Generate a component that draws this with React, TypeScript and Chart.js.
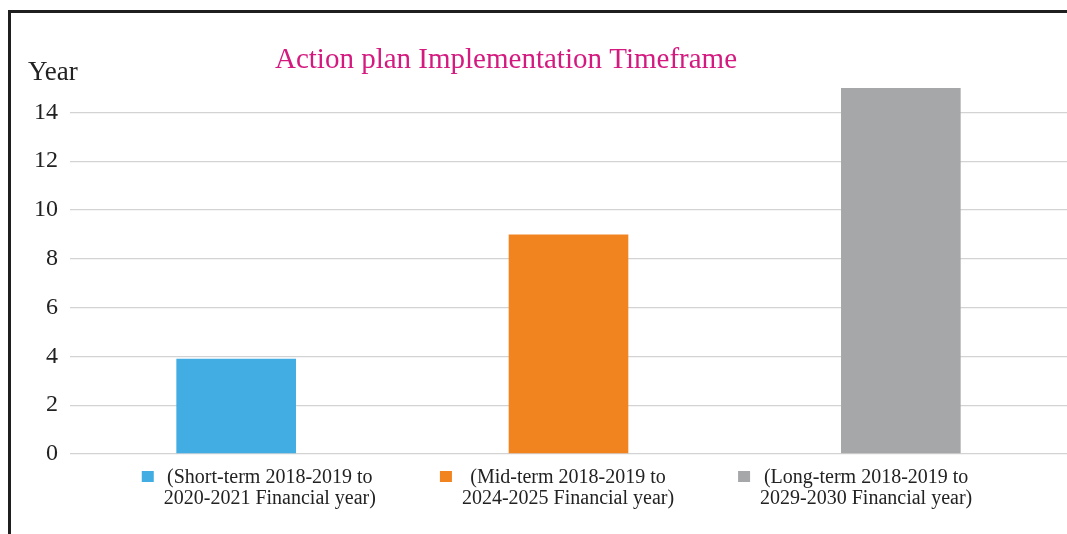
import React, { useEffect, useRef } from "react";
import { Chart, registerables } from "chart.js";

Chart.register(...registerables);

const chartTitle = "Action plan Implementation Timeframe";
const yAxisLabel = "Year";
const categories: string[][] = [
  ["(Short-term 2018-2019 to", "2020-2021 Financial year)"],
  ["(Mid-term 2018-2019 to", "2024-2025 Financial year)"],
  ["(Long-term 2018-2019 to", "2029-2030 Financial year)"],
];
const durationYears = [3.9, 9, 15];
const barColors = ["#41ade2", "#f28420", "#a6a7a9"];
const yTicks = [0, 2, 4, 6, 8, 10, 12, 14];
const yMax = 15;

const SERIF = '"Liberation Serif", "DejaVu Serif", serif';

const decorPlugin = {
  id: "decor",
  afterDraw(chart: any) {
    const { ctx, chartArea } = chart;
    ctx.save();
    // title
    ctx.fillStyle = "#d4197f";
    ctx.font = `29px ${SERIF}`;
    ctx.textAlign = "center";
    ctx.textBaseline = "alphabetic";
    ctx.fillText(chartTitle, 495, 55);
    // axis label
    ctx.fillStyle = "#222222";
    ctx.font = `27px ${SERIF}`;
    ctx.textAlign = "left";
    ctx.fillText(yAxisLabel, 17, 67);
    // legend
    ctx.font = `20px ${SERIF}`;
    const boxSize = 12;
    const boxGap = 10;
    const spacing = 64;
    const widths = categories.map((lines) =>
      Math.max(...lines.map((l) => ctx.measureText(l).width))
    );
    const itemW = widths.map((w) => boxSize + boxGap + w);
    const total = itemW.reduce((a, b) => a + b, 0) + spacing * (itemW.length - 1);
    let x = 546 - total / 2;
    const baseY = chartArea.bottom + 29;
    categories.forEach((lines, i) => {
      ctx.fillStyle = barColors[i];
      ctx.fillRect(x, chartArea.bottom + 17, boxSize, boxSize - 1);
      ctx.fillStyle = "#222222";
      ctx.textAlign = "center";
      const cx = x + boxSize + boxGap + widths[i] / 2;
      lines.forEach((l, j) => ctx.fillText(l, cx, baseY + j * 20.5));
      x += itemW[i] + spacing;
    });
    ctx.restore();
  },
};

export default function App() {
  const canvasRef = useRef<HTMLCanvasElement | null>(null);

  useEffect(() => {
    document.documentElement.style.overflow = "hidden";
    const canvas = canvasRef.current;
    if (!canvas) return;
    const chart = new Chart(canvas, {
      type: "bar",
      data: {
        labels: categories as any,
        datasets: [
          {
            data: durationYears,
            backgroundColor: barColors,
            borderWidth: 0,
            barPercentage: 0.45,
            categoryPercentage: 0.8,
          },
        ],
      },
      options: {
        responsive: false,
        animation: false,
        layout: { padding: { top: 75, bottom: 80, left: 0, right: 0 } },
        plugins: {
          legend: { display: false },
          title: { display: false },
          tooltip: { enabled: false },
        },
        scales: {
          x: { display: false },
          y: {
            min: 0,
            max: yMax,
            afterBuildTicks: (s: any) => {
              s.ticks = yTicks.map((v) => ({ value: v }));
            },
            afterFit: (s: any) => {
              s.width = 59;
            },
            grid: { color: "#d3d3d3", lineWidth: 1.3, drawTicks: false },
            border: { display: false },
            ticks: {
              padding: 12,
              color: "#222222",
              font: { family: SERIF, size: 24 },
            },
          },
        },
      } as any,
      plugins: [decorPlugin],
    });
    return () => chart.destroy();
  }, []);

  return (
    <div
      style={{
        position: "fixed",
        left: 8,
        top: 10,
        width: 1056,
        height: 521,
        borderTop: "3px solid #1f1f1f",
        borderLeft: "3px solid #1f1f1f",
        background: "#ffffff",
      }}
    >
      <canvas ref={canvasRef} width={1056} height={521} style={{ display: "block" }} />
    </div>
  );
}
